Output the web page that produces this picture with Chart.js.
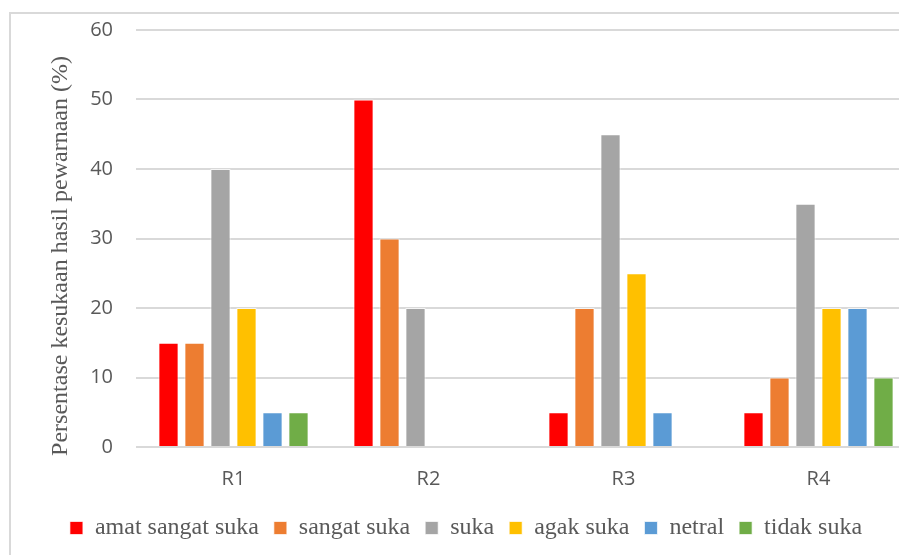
<!DOCTYPE html>
<html>
<head>
<meta charset="utf-8">
<script src="https://cdn.jsdelivr.net/npm/chart.js@4.4.0/dist/chart.umd.min.js"></script>
<style>
  html, body { margin: 0; padding: 0; background: #fff; overflow: hidden; width: 899px; height: 555px; }
  #frame { position: absolute; left: 9px; top: 12px; width: 1000px; height: 1000px; border: 2px solid #d9d9d9; box-sizing: border-box; }
  #wrap { position: absolute; left: 0; top: 0; width: 935px; height: 555px; }
</style>
</head>
<body>
<div id="frame"></div>
<div id="wrap"><canvas id="chart" width="935" height="555"></canvas></div>
<script>
// ── Data ────────────────────────────────────────────────────
const categories = ['R1', 'R2', 'R3', 'R4'];
const seriesNames = ['amat sangat suka', 'sangat suka', 'suka', 'agak suka', 'netral', 'tidak suka'];
const amatSangatSuka = [15, 50, 5, 5];
const sangatSuka = [15, 30, 20, 10];
const suka = [40, 20, 45, 35];
const agakSuka = [20, 0, 25, 20];
const netral = [5, 0, 5, 20];
const tidakSuka = [5, 0, 0, 10];
const seriesColors = ['#FF0000', '#ED7D31', '#A5A5A5', '#FFC000', '#5B9BD5', '#70AD47'];
const yMin = 0, yMax = 60, yStep = 10;
const yTitle = 'Persentase kesukaan hasil pewarnaan (%)';

const seriesValues = [amatSangatSuka, sangatSuka, suka, agakSuka, netral, tidakSuka];

// rotated y title, drawn a bit below the plot middle like the original
const yTitlePlugin = {
  id: 'yTitle',
  afterDraw(chart) {
    const { ctx } = chart;
    ctx.save();
    ctx.translate(61, 256);
    ctx.rotate(-Math.PI / 2);
    ctx.font = '24px "Liberation Serif", "Times New Roman", serif';
    ctx.fillStyle = '#595959';
    ctx.textAlign = 'center';
    ctx.textBaseline = 'middle';
    ctx.fillText(yTitle, 0, 0);
    ctx.restore();
  }
};

const tickFont = { family: '"Open Sans", sans-serif', size: 20 };

new Chart(document.getElementById('chart'), {
  type: 'bar',
  data: {
    labels: categories,
    datasets: seriesNames.map((name, i) => ({
      label: name,
      data: seriesValues[i],
      backgroundColor: seriesColors[i],
      borderColor: 'rgba(255,255,255,0.7)',
      borderWidth: (c) => (c.raw === 0 ? 0 : 1),
      barPercentage: 0.78,
      categoryPercentage: 0.8,
    }))
  },
  options: {
    responsive: false,
    animation: false,
    layout: { padding: { left: 16, right: 19, top: 30, bottom: 5 } },
    plugins: {
      legend: {
        position: 'bottom',
        labels: {
          font: { family: '"Liberation Serif", "Times New Roman", serif', size: 24 },
          color: '#595959',
          boxWidth: 13,
          boxHeight: 13,
          padding: 15,
        }
      },
      tooltip: { enabled: false },
    },
    scales: {
      x: {
        afterFit: (s) => { s.height = 54; },
        grid: { display: false },
        border: { display: false },
        ticks: { font: tickFont, color: '#595959', padding: 12 },
      },
      y: {
        min: yMin, max: yMax,
        afterFit: (s) => { s.width = 120; s.paddingTop = 0; s.paddingBottom = 0; },
        grid: { color: '#d9d9d9', lineWidth: 2, drawTicks: false },
        border: { display: false },
        ticks: { stepSize: yStep, font: tickFont, color: '#595959', padding: 23 },
      }
    }
  },
  plugins: [yTitlePlugin]
});
</script>
</body>
</html>
